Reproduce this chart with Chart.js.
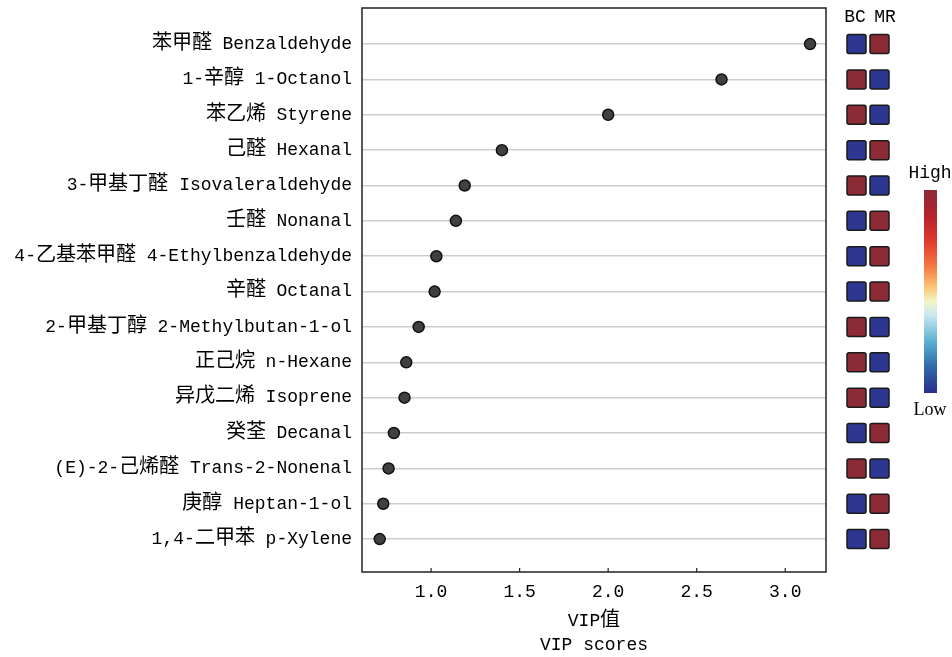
<!DOCTYPE html>
<html>
<head>
<meta charset="utf-8">
<script src="https://cdn.jsdelivr.net/npm/chart.js@4"></script>
<style>
@font-face {
  font-family: 'CJKBig';
  src: local('Noto Sans CJK SC'), local('Noto Sans CJK SC Regular'), local('NotoSansCJKsc-Regular');
  size-adjust: 112%;
  unicode-range: U+2E80-9FFF, U+F900-FAFF;
}
html,body{margin:0;padding:0;background:#fff;}
#wrap{width:952px;height:657px;}
</style>
</head>
<body>
<div id="wrap"><canvas id="c" width="952" height="657"></canvas></div>
<script>
const compounds = [
  "苯甲醛 Benzaldehyde",
  "1-辛醇 1-Octanol",
  "苯乙烯 Styrene",
  "己醛 Hexanal",
  "3-甲基丁醛 Isovaleraldehyde",
  "壬醛 Nonanal",
  "4-乙基苯甲醛 4-Ethylbenzaldehyde",
  "辛醛 Octanal",
  "2-甲基丁醇 2-Methylbutan-1-ol",
  "正己烷 n-Hexane",
  "异戊二烯 Isoprene",
  "癸荃 Decanal",
  "(E)-2-己烯醛 Trans-2-Nonenal",
  "庚醇 Heptan-1-ol",
  "1,4-二甲苯 p-Xylene"
];
const vipScores = [3.14, 2.64, 2.00, 1.40, 1.19, 1.14, 1.03, 1.02, 0.93, 0.86, 0.85, 0.79, 0.76, 0.73, 0.71];
// relative level per group: 1 = high, 0 = low
const groups = ["BC", "MR"];
const bcLevel = [0, 1, 1, 0, 1, 0, 0, 0, 1, 1, 1, 0, 1, 0, 0];
const mrLevel = [1, 0, 0, 1, 0, 1, 1, 1, 0, 0, 0, 1, 0, 1, 1];
const xTicks = [1.0, 1.5, 2.0, 2.5, 3.0];
const xTitle = ["VIP值", "VIP scores"];
const legendLabels = ["High", "Low"];

const FONT = "'Liberation Mono', 'CJKBig', 'Noto Sans CJK SC', monospace";
const HIGH_COLOR = "#8c2a36";
const LOW_COLOR = "#2d3792";

const extras = {
  id: "extras",
  afterDatasetsDraw(chart) {
    const {ctx, chartArea: a, scales: {x, y}} = chart;
    ctx.save();
    ctx.strokeStyle = "#222";
    ctx.lineWidth = 1.5;
    ctx.strokeRect(a.left, a.top, a.right - a.left, a.bottom - a.top);
    ctx.lineWidth = 1.2;
    x.ticks.forEach(t => {
      const px = x.getPixelForValue(t.value);
      ctx.beginPath();
      ctx.moveTo(px, a.bottom);
      ctx.lineTo(px, a.bottom - 4);
      ctx.stroke();
    });
    const size = 19;
    const cols = [856.5, 879.5];
    const levels = [bcLevel, mrLevel];
    compounds.forEach((c, i) => {
      const py = y.getPixelForValue(i);
      levels.forEach((lv, g) => {
        const cx = cols[g];
        ctx.fillStyle = lv[i] ? HIGH_COLOR : LOW_COLOR;
        ctx.strokeStyle = "#1a1a1a";
        ctx.lineWidth = 1.5;
        ctx.beginPath();
        if (ctx.roundRect) ctx.roundRect(cx - size / 2, py - size / 2, size, size, 2);
        else ctx.rect(cx - size / 2, py - size / 2, size, size);
        ctx.fill();
        ctx.stroke();
      });
    });
    ctx.fillStyle = "#000";
    ctx.font = "18px " + FONT;
    ctx.textAlign = "center";
    ctx.textBaseline = "middle";
    ctx.fillText(groups[0], 855, 17);
    ctx.fillText(groups[1], 885, 17);
    const bx = 924, bw = 13, by0 = 190, by1 = 393;
    const g = ctx.createLinearGradient(0, by0, 0, by1);
    g.addColorStop(0.00, "#8e2a38");
    g.addColorStop(0.12, "#b3222e");
    g.addColorStop(0.25, "#e0392c");
    g.addColorStop(0.38, "#f47a43");
    g.addColorStop(0.48, "#fcc776");
    g.addColorStop(0.55, "#f1f5c8");
    g.addColorStop(0.62, "#c7e6f2");
    g.addColorStop(0.75, "#5aaed0");
    g.addColorStop(0.87, "#2f6aa8");
    g.addColorStop(1.00, "#2a2d8c");
    ctx.fillStyle = g;
    ctx.fillRect(bx, by0, bw, by1 - by0);
    ctx.fillStyle = "#000";
    ctx.font = "18px " + FONT;
    ctx.fillText(legendLabels[0], 930, 173);
    ctx.font = "18px 'Liberation Serif', serif";
    ctx.fillText(legendLabels[1], 930, 410);
    ctx.restore();
  }
};

function draw() {
  new Chart(document.getElementById("c"), {
    type: "scatter",
    data: {
      datasets: [{
        data: vipScores.map((v, i) => ({x: v, y: i})),
        backgroundColor: "#404040",
        borderColor: "#111",
        borderWidth: 1.5,
        pointRadius: 5.5,
        pointHoverRadius: 5.5
      }]
    },
    options: {
      responsive: false,
      animation: false,
      events: [],
      layout: {padding: {left: 0, right: 126, top: 8, bottom: 0}},
      plugins: {legend: {display: false}, tooltip: {enabled: false}},
      scales: {
        x: {
          type: "linear",
          min: 0.61,
          max: 3.23,
          afterBuildTicks(s) { s.ticks = xTicks.map(v => ({value: v})); },
          afterFit(s) { s.height = 85; s.paddingLeft = 0; s.paddingRight = 0; },
          grid: {display: false, drawTicks: false},
          border: {display: false},
          ticks: {
            padding: 9,
            color: "#000",
            font: {family: FONT, size: 18},
            callback: v => Number(v).toFixed(1)
          },
          title: {
            display: true,
            text: xTitle,
            color: "#000",
            font: {family: FONT, size: 18, lineHeight: "24px"},
            padding: {top: 0, bottom: 0}
          }
        },
        y: {
          type: "linear",
          reverse: true,
          min: -1.02,
          max: 14.93,
          afterBuildTicks(s) { s.ticks = compounds.map((c, i) => ({value: i})); },
          afterFit(s) { s.width = 362; s.paddingTop = 0; s.paddingBottom = 0; },
          grid: {color: "#c9ced3", lineWidth: 1.5, drawTicks: false},
          border: {display: false},
          ticks: {
            padding: 10,
            color: "#000",
            font: {family: FONT, size: 18},
            callback: v => compounds[v] ?? ""
          }
        }
      }
    },
    plugins: [extras]
  });
}

Promise.race([
  document.fonts.load("18px CJKBig", "苯甲醛值").catch(() => {}),
  new Promise(r => setTimeout(r, 800))
]).then(draw, draw);
</script>
</body>
</html>
